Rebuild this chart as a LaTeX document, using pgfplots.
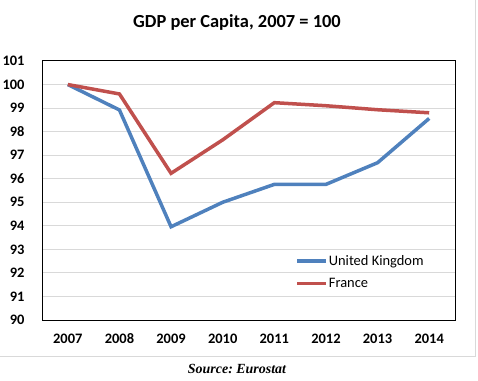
\documentclass[border=0pt]{standalone}
\usepackage{pgfplots}
\pgfplotsset{compat=1.18}
\usepackage{fontspec}
\setmainfont{Carlito}
\newfontfamily\timesf{Liberation Serif}
\definecolor{ukblue}{HTML}{4F81BD}
\definecolor{frred}{HTML}{C0504D}
\definecolor{gridgray}{HTML}{D9D9D9}
\frenchspacing
\begin{document}
\begin{tikzpicture}[x=1bp,y=1bp]
\useasboundingbox (0,0) rectangle (478,380);
\draw[gridgray, line width=1bp] (475,380) -- (475,24) -- (0,24);
\node[font=\bfseries\fontsize{18.5}{22}\selectfont] at (237,358) {GDP per Capita, 2007 = 100};
\node[font=\timesf\bfseries\itshape\fontsize{14}{16}\selectfont] at (237,11) {Source: Eurostat};
\begin{axis}[
  at={(42bp,60bp)}, anchor=south west,
  scale only axis, width=413bp, height=259bp,
  xmin=-0.5, xmax=7.5, ymin=90, ymax=101,
  xtick={0,...,7},
  xticklabels={2007,2008,2009,2010,2011,2012,2013,2014},
  ytick={90,...,101},
  major tick length=0pt,
  ymajorgrids, grid style={gridgray, line width=1bp},
  axis line style={black, line width=1bp},
  /pgf/number format/assume math mode=true,
  tick label style={font=\bfseries\fontsize{14.5}{16}\selectfont},
  yticklabel style={xshift=-14bp},
  xticklabel style={yshift=-10bp, text height=10bp, text depth=0pt},
  legend style={draw=none, fill=none, at={(0.613,0.255)}, anchor=north west,
    font=\fontsize{14.5}{17}\selectfont, row sep=9.5bp, inner sep=0pt,
    nodes={inner sep=1bp}},
  legend cell align=left,
  legend image code/.code={\draw[#1] (0bp,0bp) -- (29bp,0bp);},
]
\addplot[ukblue, line width=3.5bp] coordinates {
(0,100) (1,98.92) (2,93.96) (3,95.0) (4,95.76) (5,95.76) (6,96.68) (7,98.56)};
\addlegendentry{United Kingdom}
\addplot[frred, line width=3.5bp] coordinates {
(0,100) (1,99.6) (2,96.23) (3,97.65) (4,99.23) (5,99.1) (6,98.93) (7,98.8)};
\addlegendentry{France}
\end{axis}
\end{tikzpicture}
\end{document}
